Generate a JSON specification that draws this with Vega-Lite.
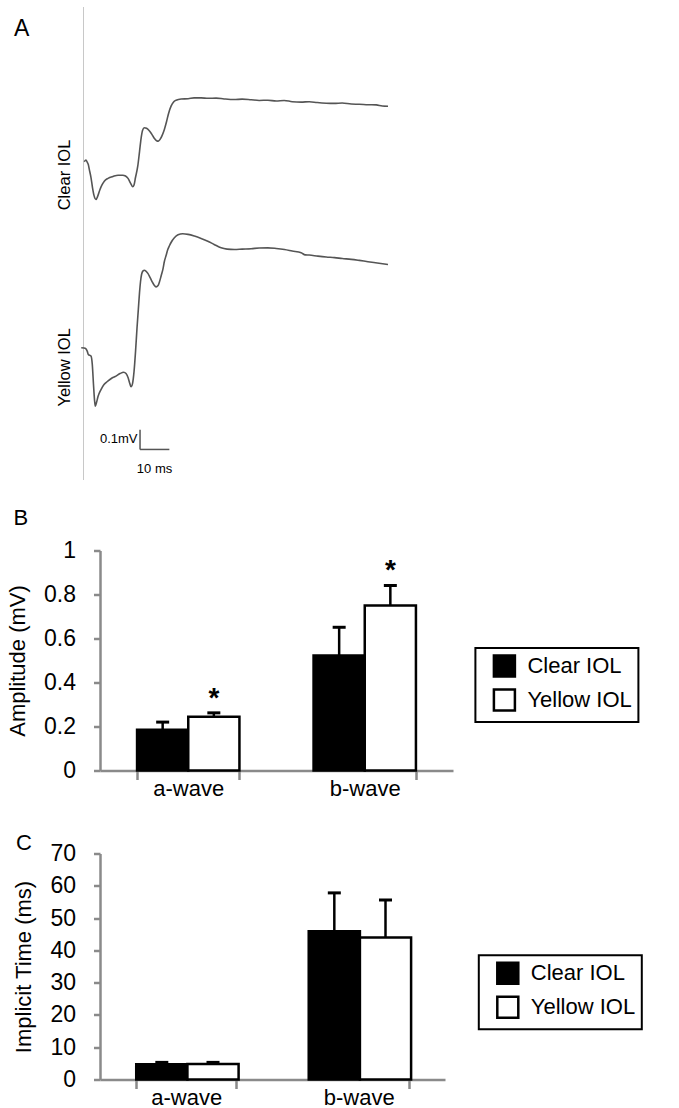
{
  "$schema": "https://vega.github.io/schema/vega-lite/v6.json",
  "background": "white",
  "padding": {"left": 6, "top": 6.5, "right": 5, "bottom": 5},
  "config": {
    "font": "Liberation Sans",
    "view": {"stroke": null},
    "title": {"fontSize": 22, "fontWeight": "normal", "anchor": "start", "frame": "group", "baseline": "alphabetic", "color": "black"},
    "axis": {"labelColor": "black", "titleColor": "black", "titleFontWeight": "normal", "grid": false},
    "legend": {"strokeWidth": 2}
  },
  "datasets": {
    "clear": [
      {"t": 0.44, "v": 0}, {"t": 1.02, "v": 0.008}, {"t": 1.47, "v": -0.003}, {"t": 1.81, "v": -0.013}, {"t": 2.15, "v": -0.036},
      {"t": 2.73, "v": -0.074}, {"t": 3.24, "v": -0.121}, {"t": 3.75, "v": -0.158}, {"t": 4.44, "v": -0.177}, {"t": 5.12, "v": -0.158},
      {"t": 5.8, "v": -0.13}, {"t": 6.48, "v": -0.109}, {"t": 7.27, "v": -0.091}, {"t": 8.53, "v": -0.078}, {"t": 10.24, "v": -0.069},
      {"t": 11.95, "v": -0.063}, {"t": 13.55, "v": -0.063}, {"t": 14.5, "v": -0.067}, {"t": 15.36, "v": -0.078}, {"t": 16.2, "v": -0.1},
      {"t": 16.96, "v": -0.117}, {"t": 17.4, "v": -0.109}, {"t": 17.9, "v": -0.074}, {"t": 18.67, "v": -0.021}, {"t": 19.28, "v": 0.048},
      {"t": 19.8, "v": 0.109}, {"t": 20.3, "v": 0.147}, {"t": 20.92, "v": 0.16}, {"t": 21.67, "v": 0.157}, {"t": 22.53, "v": 0.147},
      {"t": 23.38, "v": 0.131}, {"t": 24.23, "v": 0.112}, {"t": 25.09, "v": 0.099}, {"t": 25.7, "v": 0.097}, {"t": 26.28, "v": 0.105},
      {"t": 26.96, "v": 0.123}, {"t": 27.75, "v": 0.152}, {"t": 28.5, "v": 0.189}, {"t": 29.18, "v": 0.227}, {"t": 30.03, "v": 0.261},
      {"t": 30.89, "v": 0.281}, {"t": 31.74, "v": 0.289}, {"t": 33.45, "v": 0.295}, {"t": 35.84, "v": 0.296}, {"t": 37.88, "v": 0.3},
      {"t": 40.27, "v": 0.3}, {"t": 42.66, "v": 0.298}, {"t": 45.39, "v": 0.299}, {"t": 48.12, "v": 0.295}, {"t": 51.54, "v": 0.292},
      {"t": 54.27, "v": 0.294}, {"t": 57.34, "v": 0.291}, {"t": 60.07, "v": 0.288}, {"t": 63.04, "v": 0.289}, {"t": 65.87, "v": 0.285},
      {"t": 68.6, "v": 0.288}, {"t": 71.33, "v": 0.282}, {"t": 74.4, "v": 0.28}, {"t": 77.13, "v": 0.282}, {"t": 79.86, "v": 0.278},
      {"t": 82.94, "v": 0.275}, {"t": 85.67, "v": 0.274}, {"t": 88.4, "v": 0.276}, {"t": 91.47, "v": 0.271}, {"t": 94.2, "v": 0.27},
      {"t": 97.17, "v": 0.268}, {"t": 100.0, "v": 0.267}, {"t": 102.05, "v": 0.262}, {"t": 104.0, "v": 0.261}
    ],
    "yellow": [
      {"t": -0.6, "v": 0}, {"t": 0.34, "v": -0.001}, {"t": 1.02, "v": -0.005}, {"t": 1.47, "v": -0.017}, {"t": 1.81, "v": -0.031},
      {"t": 2.73, "v": -0.039}, {"t": 3.17, "v": -0.078}, {"t": 3.58, "v": -0.172}, {"t": 3.92, "v": -0.243}, {"t": 4.2, "v": -0.274},
      {"t": 4.61, "v": -0.257}, {"t": 5.12, "v": -0.229}, {"t": 6.14, "v": -0.196}, {"t": 7.17, "v": -0.172}, {"t": 8.43, "v": -0.157},
      {"t": 9.9, "v": -0.142}, {"t": 11.26, "v": -0.133}, {"t": 12.63, "v": -0.121}, {"t": 13.89, "v": -0.115}, {"t": 14.68, "v": -0.121},
      {"t": 15.36, "v": -0.139}, {"t": 15.97, "v": -0.168}, {"t": 16.38, "v": -0.183}, {"t": 16.89, "v": -0.168}, {"t": 17.41, "v": -0.111},
      {"t": 17.92, "v": -0.017}, {"t": 18.43, "v": 0.095}, {"t": 18.87, "v": 0.18}, {"t": 19.28, "v": 0.26}, {"t": 19.62, "v": 0.311},
      {"t": 19.97, "v": 0.344}, {"t": 20.48, "v": 0.361}, {"t": 20.92, "v": 0.364}, {"t": 21.5, "v": 0.359}, {"t": 22.12, "v": 0.349},
      {"t": 22.8, "v": 0.332}, {"t": 23.55, "v": 0.311}, {"t": 24.23, "v": 0.295}, {"t": 24.91, "v": 0.286}, {"t": 25.6, "v": 0.292},
      {"t": 26.11, "v": 0.311}, {"t": 26.62, "v": 0.336}, {"t": 27.24, "v": 0.368}, {"t": 27.75, "v": 0.405}, {"t": 28.33, "v": 0.433},
      {"t": 28.91, "v": 0.461}, {"t": 29.52, "v": 0.48}, {"t": 30.03, "v": 0.494}, {"t": 31.16, "v": 0.516}, {"t": 32.42, "v": 0.53},
      {"t": 34.03, "v": 0.535}, {"t": 35.84, "v": 0.532}, {"t": 37.99, "v": 0.524}, {"t": 40.27, "v": 0.513}, {"t": 42.56, "v": 0.5},
      {"t": 44.71, "v": 0.485}, {"t": 47.1, "v": 0.469}, {"t": 49.15, "v": 0.463}, {"t": 51.64, "v": 0.461}, {"t": 54.27, "v": 0.463},
      {"t": 57.34, "v": 0.465}, {"t": 60.07, "v": 0.468}, {"t": 63.04, "v": 0.469}, {"t": 65.87, "v": 0.466}, {"t": 68.7, "v": 0.461},
      {"t": 71.33, "v": 0.454}, {"t": 74.4, "v": 0.446}, {"t": 75.77, "v": 0.436}, {"t": 77.13, "v": 0.435}, {"t": 80.1, "v": 0.43},
      {"t": 82.94, "v": 0.426}, {"t": 85.77, "v": 0.423}, {"t": 88.4, "v": 0.419}, {"t": 91.47, "v": 0.415}, {"t": 94.2, "v": 0.41},
      {"t": 97.17, "v": 0.404}, {"t": 100.34, "v": 0.398}, {"t": 104.0, "v": 0.391}
    ],
    "scalebar": [
      {"t": 19.45, "t2": 19.45, "v": -0.384, "v2": -0.477},
      {"t": 19.45, "t2": 29.45, "v": -0.477, "v2": -0.477}
    ],
    "amplitude": [
      {"wave": "a-wave", "lens": "Clear IOL", "value": 0.185, "upper": 0.22, "sig": ""},
      {"wave": "a-wave", "lens": "Yellow IOL", "value": 0.244, "upper": 0.262, "sig": "*"},
      {"wave": "b-wave", "lens": "Clear IOL", "value": 0.523, "upper": 0.651, "sig": ""},
      {"wave": "b-wave", "lens": "Yellow IOL", "value": 0.75, "upper": 0.841, "sig": "*"}
    ],
    "implicit": [
      {"wave": "a-wave", "lens": "Clear IOL", "value": 4.74, "upper": 5.3},
      {"wave": "a-wave", "lens": "Yellow IOL", "value": 4.83, "upper": 5.3},
      {"wave": "b-wave", "lens": "Clear IOL", "value": 45.9, "upper": 57.8},
      {"wave": "b-wave", "lens": "Yellow IOL", "value": 44.0, "upper": 55.6}
    ]
  },
  "concat": [
    {
      "vconcat": [
        {
          "width": 288,
          "height": 210,
          "title": {"text": "A", "dx": -86, "dy": 34.7, "offset": 0, "fontSize": 23},
          "data": {"name": "clear"},
          "mark": {"type": "line", "color": "#555555", "strokeWidth": 1.6, "interpolate": "monotone"},
          "encoding": {
            "x": {"field": "t", "type": "quantitative", "scale": {"domain": [5.8, 104], "nice": false, "zero": false}, "axis": null},
            "y": {
              "field": "v", "type": "quantitative",
              "scale": {"domain": [-0.257, 0.729], "nice": false, "zero": false},
              "axis": {"domain": true, "domainColor": "#c8c8c8", "domainWidth": 1, "ticks": false, "labels": false, "labelPadding": 0,
                       "offset": 17, "title": "Clear IOL", "titleFontSize": 16.5, "titleY": 168, "titleAngle": 270, "titleAlign": "center",
                       "titleBaseline": "alphabetic", "titlePadding": 14}
            }
          }
        },
        {
          "width": 288,
          "height": 263,
          "encoding": {
            "x": {"field": "t", "type": "quantitative", "scale": {"domain": [5.8, 104], "nice": false, "zero": false}, "axis": null},
            "y": {
              "field": "v", "type": "quantitative",
              "scale": {"domain": [-0.618, 0.616], "nice": false, "zero": false},
              "axis": {"domain": true, "domainColor": "#c8c8c8", "domainWidth": 1, "ticks": false, "labels": false, "labelPadding": 0,
                       "offset": 17, "title": "Yellow IOL", "titleFontSize": 16.5, "titleY": 150.3, "titleAngle": 270, "titleAlign": "center",
                       "titleBaseline": "alphabetic", "titlePadding": 14}
            }
          },
          "layer": [
            {
              "data": {"name": "yellow"},
              "mark": {"type": "line", "color": "#555555", "strokeWidth": 1.6, "interpolate": "monotone"}
            },
            {
              "data": {"name": "scalebar"},
              "mark": {"type": "rule", "color": "#555555", "strokeWidth": 1.5},
              "encoding": {"x2": {"field": "t2"}, "y2": {"field": "v2"}}
            },
            {
              "data": {"values": [{"t": 18.6, "v": -0.446, "label": "0.1mV"}]},
              "mark": {"type": "text", "align": "right", "baseline": "alphabetic", "fontSize": 13, "color": "black"},
              "encoding": {"text": {"field": "label"}}
            },
            {
              "data": {"values": [{"t": 24.4, "v": -0.587, "label": "10 ms"}]},
              "mark": {"type": "text", "align": "center", "baseline": "alphabetic", "fontSize": 13, "color": "black"},
              "encoding": {"text": {"field": "label"}}
            }
          ]
        }
      ],
      "spacing": 0
    },
    {
      "vconcat": [
        {
          "width": 353,
          "height": 220,
          "title": {"text": "B", "dx": -86.5, "offset": 9.5},
          "data": {"name": "amplitude"},
          "encoding": {
            "x": {
              "field": "wave", "type": "nominal",
              "scale": {"paddingInner": 0.42, "paddingOuter": 0.21},
              "axis": {"title": null, "tickBand": "extent", "domainColor": "#8a8a8a", "domainWidth": 2.5, "tickColor": "#8a8a8a",
                       "tickWidth": 2.5, "tickSize": 9, "labelFontSize": 22, "labelPadding": -1, "labelAngle": 0}
            },
            "xOffset": {"field": "lens", "type": "nominal", "scale": {"domain": ["Clear IOL", "Yellow IOL"]}}
          },
          "layer": [
            {
              "mark": {"type": "bar", "stroke": "black", "strokeWidth": 2.5},
              "encoding": {
                "y": {
                  "field": "value", "type": "quantitative", "title": "Amplitude (mV)",
                  "scale": {"domain": [0, 1], "nice": false},
                  "axis": {"values": [0, 0.2, 0.4, 0.6, 0.8, 1], "format": "~g", "domainColor": "#8a8a8a", "domainWidth": 2.5,
                           "tickColor": "#8a8a8a", "tickWidth": 2.5, "tickSize": 6.5, "labelFontSize": 23, "labelPadding": 18,
                           "labelFlush": false, "labelOverlap": false, "titleFontSize": 22, "titlePadding": 14}
                },
                "fill": {
                  "field": "lens", "type": "nominal",
                  "scale": {"domain": ["Clear IOL", "Yellow IOL"], "range": ["#000000", "#ffffff"]},
                  "legend": {"orient": "none", "legendX": 375.4, "legendY": 97.4, "title": null, "labelFontSize": 22,
                             "labelColor": "black", "symbolType": "square", "symbolSize": 441, "symbolStrokeColor": "black",
                             "symbolStrokeWidth": 2.5, "strokeColor": "black", "padding": 6, "rowPadding": 2,
                             "labelOffset": 11, "symbolOffset": 11}
                }
              }
            },
            {
              "mark": {"type": "rule", "color": "black", "strokeWidth": 2.5},
              "encoding": {
                "y": {"field": "value", "type": "quantitative", "title": "Amplitude (mV)", "scale": {"domain": [0, 1], "nice": false},
                      "axis": {"values": [0, 0.2, 0.4, 0.6, 0.8, 1], "format": "~g", "domainColor": "#8a8a8a", "domainWidth": 2.5,
                               "tickColor": "#8a8a8a", "tickWidth": 2.5, "tickSize": 6.5, "labelFontSize": 23, "labelPadding": 18,
                               "labelFlush": false, "labelOverlap": false, "titleFontSize": 22, "titlePadding": 14}},
                "y2": {"field": "upper"}
              }
            },
            {
              "mark": {"type": "tick", "orient": "horizontal", "color": "black", "opacity": 1, "size": 13, "thickness": 3},
              "encoding": {
                "y": {"field": "upper", "type": "quantitative", "title": "Amplitude (mV)", "scale": {"domain": [0, 1], "nice": false},
                      "axis": {"values": [0, 0.2, 0.4, 0.6, 0.8, 1], "format": "~g", "domainColor": "#8a8a8a", "domainWidth": 2.5,
                               "tickColor": "#8a8a8a", "tickWidth": 2.5, "tickSize": 6.5, "labelFontSize": 23, "labelPadding": 18,
                               "labelFlush": false, "labelOverlap": false, "titleFontSize": 22, "titlePadding": 14}}
              }
            },
            {
              "mark": {"type": "text", "fontSize": 28, "fontWeight": "bold", "baseline": "alphabetic", "dy": -6, "color": "black"},
              "encoding": {
                "y": {"field": "upper", "type": "quantitative", "title": "Amplitude (mV)", "scale": {"domain": [0, 1], "nice": false},
                      "axis": {"values": [0, 0.2, 0.4, 0.6, 0.8, 1], "format": "~g", "domainColor": "#8a8a8a", "domainWidth": 2.5,
                               "tickColor": "#8a8a8a", "tickWidth": 2.5, "tickSize": 6.5, "labelFontSize": 23, "labelPadding": 18,
                               "labelFlush": false, "labelOverlap": false, "titleFontSize": 22, "titlePadding": 14}},
                "text": {"field": "sig"}
              }
            }
          ]
        },
        {
          "width": 345,
          "height": 226,
          "title": {"text": "C", "dx": -84, "offset": -12},
          "data": {"name": "implicit"},
          "encoding": {
            "x": {
              "field": "wave", "type": "nominal",
              "scale": {"paddingInner": 0.42, "paddingOuter": 0.21},
              "axis": {"title": null, "tickBand": "extent", "domainColor": "#8a8a8a", "domainWidth": 2.5, "tickColor": "#8a8a8a",
                       "tickWidth": 2.5, "tickSize": 9, "labelFontSize": 22, "labelPadding": -1, "labelAngle": 0}
            },
            "xOffset": {"field": "lens", "type": "nominal", "scale": {"domain": ["Clear IOL", "Yellow IOL"]}}
          },
          "layer": [
            {
              "mark": {"type": "bar", "stroke": "black", "strokeWidth": 2.5},
              "encoding": {
                "y": {
                  "field": "value", "type": "quantitative", "title": "Implicit Time (ms)",
                  "scale": {"domain": [0, 70], "nice": false},
                  "axis": {"values": [0, 10, 20, 30, 40, 50, 60, 70], "format": "d", "domainColor": "#8a8a8a", "domainWidth": 2.5,
                           "tickColor": "#8a8a8a", "tickWidth": 2.5, "tickSize": 6.5, "labelFontSize": 23, "labelPadding": 18,
                           "labelFlush": false, "labelOverlap": false, "titleFontSize": 22, "titlePadding": 14}
                },
                "fill": {
                  "field": "lens", "type": "nominal",
                  "scale": {"domain": ["Clear IOL", "Yellow IOL"], "range": ["#000000", "#ffffff"]},
                  "legend": {"orient": "none", "legendX": 378.8, "legendY": 101.7, "title": null, "labelFontSize": 22,
                             "labelColor": "black", "symbolType": "square", "symbolSize": 441, "symbolStrokeColor": "black",
                             "symbolStrokeWidth": 2.5, "strokeColor": "black", "padding": 6, "rowPadding": 2,
                             "labelOffset": 11, "symbolOffset": 11}
                }
              }
            },
            {
              "mark": {"type": "rule", "color": "black", "strokeWidth": 2.5},
              "encoding": {
                "y": {"field": "value", "type": "quantitative", "title": "Implicit Time (ms)", "scale": {"domain": [0, 70], "nice": false},
                      "axis": {"values": [0, 10, 20, 30, 40, 50, 60, 70], "format": "d", "domainColor": "#8a8a8a", "domainWidth": 2.5,
                               "tickColor": "#8a8a8a", "tickWidth": 2.5, "tickSize": 6.5, "labelFontSize": 23, "labelPadding": 18,
                               "labelFlush": false, "labelOverlap": false, "titleFontSize": 22, "titlePadding": 14}},
                "y2": {"field": "upper"}
              }
            },
            {
              "mark": {"type": "tick", "orient": "horizontal", "color": "black", "opacity": 1, "size": 13, "thickness": 3},
              "encoding": {
                "y": {"field": "upper", "type": "quantitative", "title": "Implicit Time (ms)", "scale": {"domain": [0, 70], "nice": false},
                      "axis": {"values": [0, 10, 20, 30, 40, 50, 60, 70], "format": "d", "domainColor": "#8a8a8a", "domainWidth": 2.5,
                               "tickColor": "#8a8a8a", "tickWidth": 2.5, "tickSize": 6.5, "labelFontSize": 23, "labelPadding": 18,
                               "labelFlush": false, "labelOverlap": false, "titleFontSize": 22, "titlePadding": 14}}
              }
            }
          ]
        }
      ],
      "spacing": 32,
      "resolve": {"scale": {"fill": "independent"}, "legend": {"fill": "independent"}}
    }
  ],
  "columns": 1,
  "spacing": 27,
  "resolve": {"scale": {"fill": "independent"}, "legend": {"fill": "independent"}}
}
